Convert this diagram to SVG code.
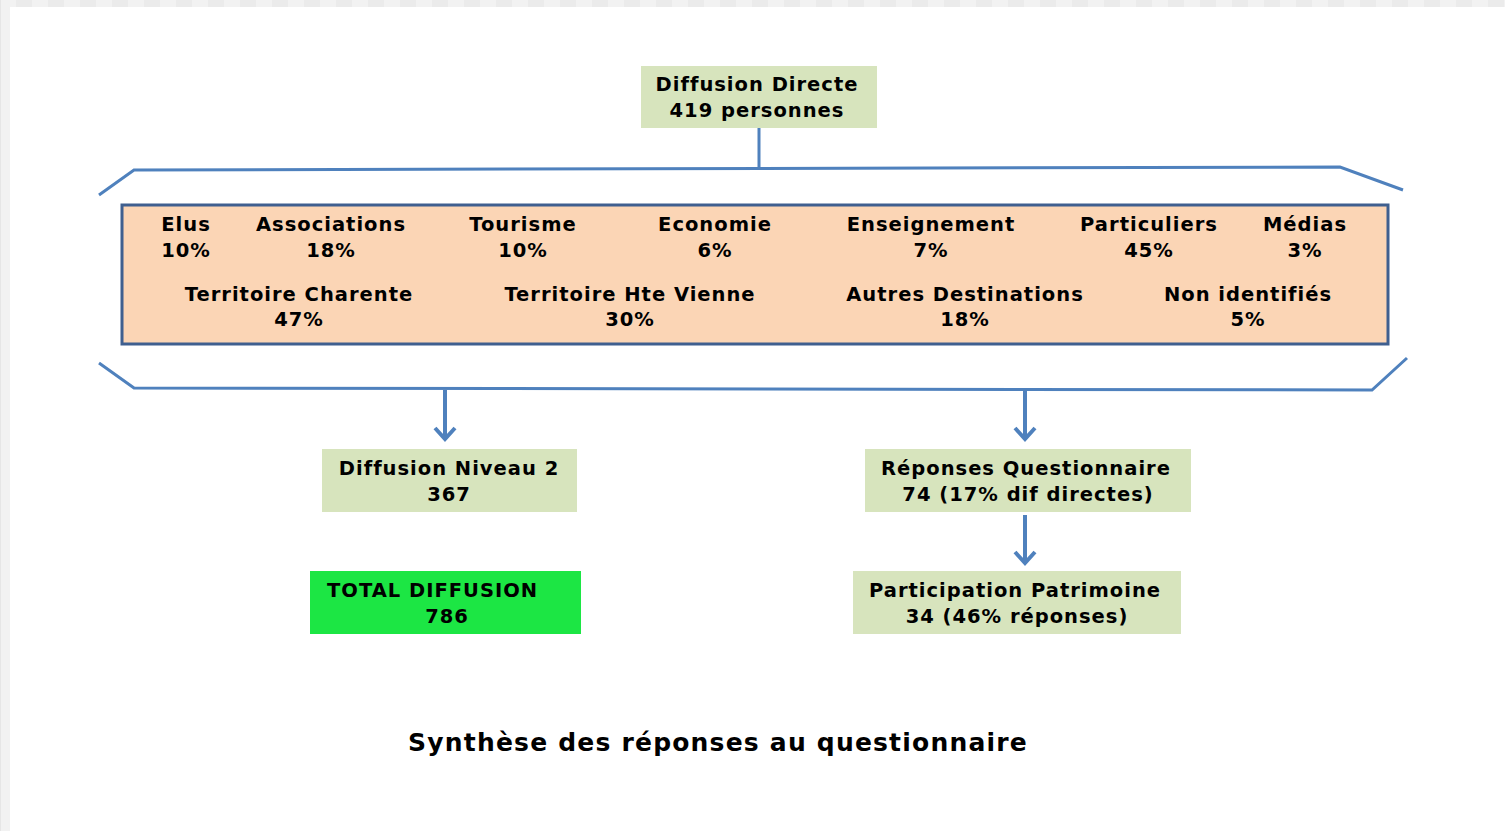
<svg xmlns="http://www.w3.org/2000/svg" width="1505" height="831" viewBox="0 0 1505 831">
<defs>
<pattern id="chk" x="0" y="0" width="32" height="7" patternUnits="userSpaceOnUse">
<rect x="0" y="0" width="16" height="7" fill="#F2F2F2"/>
<rect x="16" y="0" width="16" height="7" fill="#EBEBEB"/>
</pattern>
</defs>
<style>
.t{font-family:"DejaVu Sans","Liberation Sans",sans-serif;font-weight:bold;font-size:19.5px;letter-spacing:1px;fill:#000;text-anchor:middle}
.g{fill:#D7E4BD}
.ln{stroke:#4F81BD;stroke-width:3;fill:none;stroke-linejoin:miter}
.ar{stroke:#4F81BD;stroke-width:4;fill:none}
</style>
<rect width="1505" height="831" fill="#FFFFFF"/>
<rect x="0" y="0" width="1505" height="7" fill="url(#chk)"/>
<rect x="0" y="0" width="10" height="831" fill="#F2F2F2"/>
<line x1="0.5" y1="0" x2="0.5" y2="831" stroke="#E6E6E6"/>

<g id="connectors">
<line class="ln" x1="759" y1="128" x2="759" y2="169"/>
<polyline class="ln" points="99,195 134,170 1340,167 1403,190"/>
<polyline class="ln" points="99,363 134,388 1372,390 1407,358"/>
<line class="ar" x1="445" y1="390" x2="445" y2="439"/>
<polyline class="ar" points="435,428 445,439 455,428"/>
<line class="ar" x1="1025" y1="390" x2="1025" y2="439"/>
<polyline class="ar" points="1015,428 1025,439 1035,428"/>
<line class="ar" x1="1025" y1="515" x2="1025" y2="563"/>
<polyline class="ar" points="1015,552 1025,563 1035,552"/>
</g>

<g id="diffusion-directe">
<rect class="g" x="641" y="66" width="236" height="62"/>
<text class="t" x="757" y="91">Diffusion Directe</text>
<text class="t" x="757" y="117">419 personnes</text>
</g>

<g id="categories">
<rect x="122" y="205" width="1266" height="139" fill="#FBD5B5" stroke="#3F5F8F" stroke-width="3"/>
<text class="t" x="186" y="231">Elus</text>
<text class="t" x="186" y="257">10%</text>
<text class="t" x="331" y="231">Associations</text>
<text class="t" x="331" y="257">18%</text>
<text class="t" x="523" y="231">Tourisme</text>
<text class="t" x="523" y="257">10%</text>
<text class="t" x="715" y="231">Economie</text>
<text class="t" x="715" y="257">6%</text>
<text class="t" x="931" y="231">Enseignement</text>
<text class="t" x="931" y="257">7%</text>
<text class="t" x="1149" y="231">Particuliers</text>
<text class="t" x="1149" y="257">45%</text>
<text class="t" x="1305" y="231">Médias</text>
<text class="t" x="1305" y="257">3%</text>
<text class="t" x="299" y="301">Territoire Charente</text>
<text class="t" x="299" y="326">47%</text>
<text class="t" x="630" y="301">Territoire Hte Vienne</text>
<text class="t" x="630" y="326">30%</text>
<text class="t" x="965" y="301">Autres Destinations</text>
<text class="t" x="965" y="326">18%</text>
<text class="t" x="1248" y="301">Non identifiés</text>
<text class="t" x="1248" y="326">5%</text>
</g>

<g id="diffusion-niveau-2">
<rect class="g" x="322" y="449" width="255" height="63"/>
<text class="t" x="449" y="475">Diffusion Niveau 2</text>
<text class="t" x="449" y="501">367</text>
</g>

<g id="reponses-questionnaire">
<rect class="g" x="865" y="449" width="326" height="63"/>
<text class="t" x="1026" y="475">Réponses Questionnaire</text>
<text class="t" x="1028" y="501">74 (17% dif directes)</text>
</g>

<g id="participation-patrimoine">
<rect class="g" x="853" y="571" width="328" height="63"/>
<text class="t" x="1015" y="597">Participation Patrimoine</text>
<text class="t" x="1017" y="623">34 (46% réponses)</text>
</g>

<g id="total-diffusion">
<rect x="310" y="571" width="271" height="63" fill="#1CE644"/>
<text class="t" x="327" y="597" style="text-anchor:start">TOTAL DIFFUSION</text>
<text class="t" x="447" y="623">786</text>
</g>

<g id="title">
<text class="t" x="718" y="751" style="font-size:25px;letter-spacing:1.2px">Synthèse des réponses au questionnaire</text>
</g>
</svg>
